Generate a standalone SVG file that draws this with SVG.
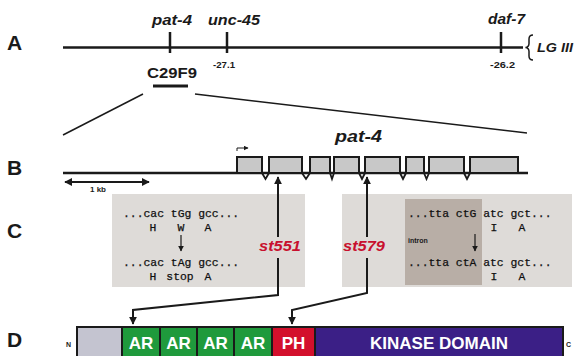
<svg xmlns="http://www.w3.org/2000/svg" width="575" height="356" viewBox="0 0 575 356">
  <style>
    .panel { font-family: "Liberation Sans", Arial, sans-serif; font-weight: bold; font-size: 21px; fill: #1a1a1a; }
    .gene { font-family: "Liberation Sans", Arial, sans-serif; font-weight: bold; font-style: italic; fill: #1a1a1a; }
    .small { font-family: "Liberation Sans", Arial, sans-serif; font-weight: bold; fill: #1a1a1a; }
    .seq { font-family: "Liberation Mono", "Courier New", monospace; font-size: 11.4px; fill: #111111; stroke: #111111; stroke-width: 0.25; }
    .aa { font-family: "Liberation Mono", "Courier New", monospace; font-size: 11.4px; fill: #111111; stroke: #111111; stroke-width: 0.25; text-anchor: middle; }
    .allele { font-family: "Liberation Sans", Arial, sans-serif; font-weight: bold; font-style: italic; font-size: 14px; fill: #c8102e; text-anchor: middle; }
    .dom { font-family: "Liberation Sans", Arial, sans-serif; font-weight: bold; font-size: 17px; fill: #ffffff; text-anchor: middle; }
    .thick { stroke: #1a1a1a; stroke-width: 2.5; fill: none; }
    .thin { stroke: #1a1a1a; stroke-width: 1.5; fill: none; }
    .exon { fill: #c8c8c8; stroke: #1a1a1a; stroke-width: 2; }
    .seg { stroke: #1a1a1a; stroke-width: 2; }
  </style>
  <defs>
    <marker id="head" viewBox="0 0 10 10" refX="9" refY="5" markerWidth="4" markerHeight="4" orient="auto-start-reverse" markerUnits="strokeWidth">
      <path d="M0,0 L10,5 L0,10 z" fill="#1a1a1a"/>
    </marker>
    <marker id="headSmall" viewBox="0 0 10 10" refX="9" refY="5" markerWidth="5" markerHeight="5" orient="auto-start-reverse" markerUnits="strokeWidth">
      <path d="M0,0 L10,5 L0,10 z" fill="#1a1a1a"/>
    </marker>
  </defs>

  <!-- panel letters -->
  <g id="panel-labels">
    <text class="panel" x="7" y="50">A</text>
    <text class="panel" x="7" y="175">B</text>
    <text class="panel" x="7" y="238">C</text>
    <text class="panel" x="7" y="347">D</text>
  </g>

  <!-- A: linkage group III -->
  <g id="lg3-map">
    <line class="thick" x1="63" y1="47.5" x2="523" y2="47.5"/>
    <line class="thick" x1="170" y1="32" x2="170" y2="53"/>
    <line class="thick" x1="227" y1="32" x2="227" y2="53"/>
    <line class="thick" x1="501" y1="32" x2="501" y2="53"/>
    <path class="thin" stroke-width="1.8" d="M533,35 q-4,0 -4,4 v4.5 q0,3.5 -3.5,4 q3.5,0.5 3.5,4 v4.5 q0,4 4,4"/>
    <text class="gene" x="152" y="25" font-size="14" textLength="40" lengthAdjust="spacingAndGlyphs">pat-4</text>
    <text class="gene" x="208" y="25" font-size="14" textLength="52" lengthAdjust="spacingAndGlyphs">unc-45</text>
    <text class="gene" x="488" y="24" font-size="14" textLength="37" lengthAdjust="spacingAndGlyphs">daf-7</text>
    <text class="small" x="213" y="68" font-size="9" textLength="22" lengthAdjust="spacingAndGlyphs">-27.1</text>
    <text class="small" x="490" y="68" font-size="9" textLength="25" lengthAdjust="spacingAndGlyphs">-26.2</text>
    <text class="gene" x="537" y="52" font-size="13" textLength="36" lengthAdjust="spacingAndGlyphs">LG III</text>
  </g>

  <!-- cosmid clone -->
  <g id="cosmid">
    <text class="small" x="147" y="78" font-size="14" textLength="50" lengthAdjust="spacingAndGlyphs">C29F9</text>
    <line x1="153" y1="86" x2="188" y2="86" stroke="#1a1a1a" stroke-width="3"/>
  </g>

  <!-- B: gene structure -->
  <g id="gene-model">
    <text class="gene" x="335" y="142" font-size="17" textLength="47" lengthAdjust="spacingAndGlyphs">pat-4</text>
    <line class="thick" x1="63" y1="173" x2="528" y2="173"/>
    <rect class="exon" x="237" y="157" width="25" height="16"/>
    <rect class="exon" x="269" y="157" width="33" height="16"/>
    <rect class="exon" x="310" y="157" width="20" height="16"/>
    <rect class="exon" x="334" y="157" width="25" height="16"/>
    <rect class="exon" x="365" y="157" width="35" height="16"/>
    <rect class="exon" x="406" y="157" width="18" height="16"/>
    <rect class="exon" x="429" y="157" width="35" height="16"/>
    <rect class="exon" x="470" y="157" width="48" height="16"/>
    <path fill="none" stroke="#1a1a1a" stroke-width="1.8" d="M262,173 L265.5,179 L269,173 M302,173 L306,179 L310,173 M330,173 L332,179 L334,173 M359,173 L362,179 L365,173 M400,173 L403,179 L406,173 M424,173 L426.5,179 L429,173 M464,173 L467,179 L470,173"/>
    <path fill="none" stroke="#1a1a1a" stroke-width="1" d="M237,151 V148 H248" marker-end="url(#headSmall)"/>
  </g>

  <!-- scale bar -->
  <g id="scale-bar">
    <line x1="65" y1="182" x2="149" y2="182" stroke="#1a1a1a" stroke-width="2" marker-start="url(#head)" marker-end="url(#head)"/>
    <text class="small" x="90" y="192" font-size="8">1 kb</text>
  </g>

  <!-- C: st551 nonsense mutation -->
  <g id="st551-box">
    <rect x="112" y="194" width="193" height="93" fill="#dedbd8"/>
    <text class="seq" x="123" y="217">...cac tGg gcc...</text>
    <text class="aa" y="231"><tspan x="153">H</tspan><tspan x="181">W</tspan><tspan x="208">A</tspan></text>
    <line x1="181" y1="235" x2="181" y2="251" stroke="#1a1a1a" stroke-width="1.2" marker-end="url(#headSmall)"/>
    <text class="seq" x="123" y="266">...cac tAg gcc...</text>
    <text class="aa" y="280"><tspan x="153">H</tspan><tspan x="180">stop</tspan><tspan x="208">A</tspan></text>
  </g>

  <!-- C: st579 splice-site mutation -->
  <g id="st579-box">
    <rect x="342" y="194" width="230" height="93" fill="#dedbd8"/>
    <rect x="405" y="199" width="77" height="86" fill="#b8aea6"/>
    <text class="seq" x="408" y="217">...tta ctG atc gct...</text>
    <text class="aa" y="231"><tspan x="494">I</tspan><tspan x="522">A</tspan></text>
    <text class="small" x="408" y="243" font-size="7">intron</text>
    <line x1="475" y1="234" x2="475" y2="251" stroke="#1a1a1a" stroke-width="1.2" marker-end="url(#headSmall)"/>
    <text class="seq" x="408" y="266">...tta ctA atc gct...</text>
    <text class="aa" y="280"><tspan x="494">I</tspan><tspan x="522">A</tspan></text>
  </g>

  <!-- allele labels -->
  <g id="alleles">
    <text class="allele" x="280" y="251" textLength="42" lengthAdjust="spacingAndGlyphs">st551</text>
    <text class="allele" x="364" y="251" textLength="42" lengthAdjust="spacingAndGlyphs">st579</text>
  </g>

  <!-- D: protein domains -->
  <g id="protein">
    <rect class="seg" x="77" y="327" width="45" height="33" fill="#c4c4d0"/>
    <rect class="seg" x="122" y="327" width="38" height="33" fill="#1f9a3c"/>
    <rect class="seg" x="160" y="327" width="37" height="33" fill="#1f9a3c"/>
    <rect class="seg" x="197" y="327" width="37" height="33" fill="#1f9a3c"/>
    <rect class="seg" x="234" y="327" width="38" height="33" fill="#1f9a3c"/>
    <rect class="seg" x="272" y="327" width="43" height="33" fill="#d3102c"/>
    <rect class="seg" x="315" y="327" width="248" height="33" fill="#3b1f86"/>
    <text class="dom" x="141" y="349">AR</text>
    <text class="dom" x="178.5" y="349">AR</text>
    <text class="dom" x="215.5" y="349">AR</text>
    <text class="dom" x="253" y="349">AR</text>
    <text class="dom" x="293.5" y="349">PH</text>
    <text class="dom" x="439" y="349">KINASE DOMAIN</text>
    <text class="small" x="66" y="347" font-size="7">N</text>
    <text class="small" x="566" y="347" font-size="7">C</text>
  </g>

  <!-- connectors -->
  <g id="connectors">
    <line class="thin" x1="143" y1="94" x2="63" y2="135"/>
    <line class="thin" x1="195" y1="94" x2="527" y2="133"/>
    <line x1="278" y1="237" x2="278" y2="177" stroke="#1a1a1a" stroke-width="2" marker-end="url(#head)"/>
    <polyline points="278,258 278,295 133,310 133,324" fill="none" stroke="#1a1a1a" stroke-width="2" marker-end="url(#head)"/>
    <line x1="367" y1="237" x2="367" y2="177" stroke="#1a1a1a" stroke-width="2" marker-end="url(#head)"/>
    <polyline points="367,258 367,293 292,310 292,324" fill="none" stroke="#1a1a1a" stroke-width="2" marker-end="url(#head)"/>
  </g>
</svg>
